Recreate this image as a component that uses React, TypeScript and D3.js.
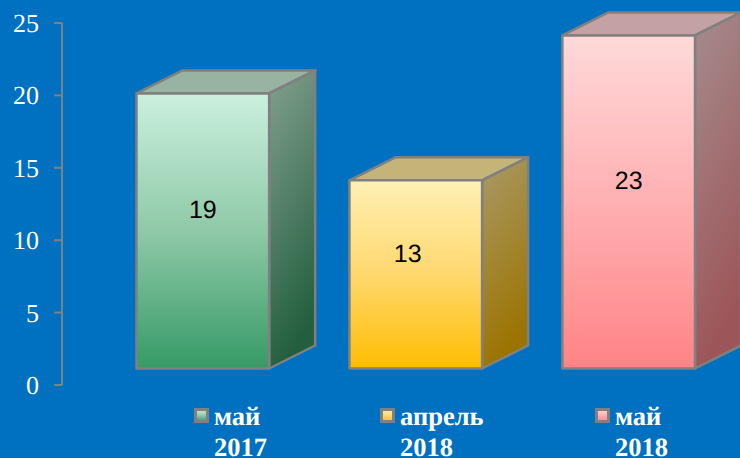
import React from "react";
import * as d3 from "d3";

const categories = ["май 2017", "апрель 2018", "май 2018"];
const legendFirst = ["май", "апрель", "май"];
const legendSecond = ["2017", "2018", "2018"];
const values = [19, 13, 23];
const yTicks = [0, 5, 10, 15, 20, 25];
const frontTop = ["#CBF0DE", "#FFF0B4", "#FFD9D9"];
const frontMid = ["#8FC9A8", "#FFD86E", "#FFB0B2"];
const frontBottom = ["#369A66", "#FFBD00", "#FF8386"];
const sideTop = ["#84A090", "#A89A68", "#A68C8E"];
const sideBottom = ["#235F3E", "#9C7300", "#9C5558"];
const topFace = ["#99B3A2", "#C4B478", "#C4A2A4"];

const W = 740, H = 458;
const y = d3.scaleLinear().domain([0, 25]).range([385, 23]);
const x = d3.scaleBand().domain(categories).range([136.5, 695]).paddingInner(0.377).paddingOuter(0);
const floorShift = 16.5, depthX = 46, depthY = 23;
const legendX = [194, 380, 595];
const labelDx = [0, -8, 0];
const serif = "'Liberation Serif', 'Times New Roman', serif";
const line = d3.line();

export default function App() {
  const bw = x.bandwidth();
  return (
    <svg width={W} height={H} textRendering="geometricPrecision" style={{ position: "fixed", left: 0, top: 0, display: "block" }}>
      <defs>
        {categories.map((c, i) => (
          <React.Fragment key={c}>
            <linearGradient id={`f${i}`} x1="0" y1="0" x2="0" y2="1">
              <stop offset="0" stopColor={frontTop[i]} />
              <stop offset="0.5" stopColor={frontMid[i]} />
              <stop offset="1" stopColor={frontBottom[i]} />
            </linearGradient>
            <linearGradient id={`s${i}`} x1="0" y1="0" x2="0.25" y2="1">
              <stop offset="0" stopColor={sideTop[i]} />
              <stop offset="1" stopColor={sideBottom[i]} />
            </linearGradient>
          </React.Fragment>
        ))}
      </defs>
      <rect width={W} height={H} fill="#0070C0" />
      <path d={line([[62, y(25)], [62, y(0)]]) ?? ""} stroke="#808080" strokeWidth={2} fill="none" />
      {yTicks.map((t) => (
        <g key={t}>
          <line x1={54} x2={62} y1={y(t)} y2={y(t)} stroke="#808080" strokeWidth={2} />
          <text x={39} y={y(t) + 9} textAnchor="end" fill="#fff" fontFamily={serif} fontSize={26}>{t}</text>
        </g>
      ))}
      {categories.map((c, i) => {
        const x0 = x(c) ?? 0, x1 = x0 + bw;
        const top = y(values[i]) - floorShift, bot = y(0) - floorShift;
        const stroke = { stroke: "#808080", strokeWidth: 2.5, strokeLinejoin: "round" as const };
        return (
          <g key={c}>
            <path d={line([[x0, top], [x0 + depthX, top - depthY], [x1 + depthX, top - depthY], [x1, top]]) + "Z"} fill={topFace[i]} {...stroke} />
            <path d={line([[x1, top], [x1 + depthX, top - depthY], [x1 + depthX, bot - depthY], [x1, bot]]) + "Z"} fill={`url(#s${i})`} {...stroke} />
            <rect x={x0} y={top} width={bw} height={bot - top} fill={`url(#f${i})`} {...stroke} />
            <text x={(x0 + x1) / 2 + labelDx[i]} y={(top + bot) / 2 - 21 + 8.5} textAnchor="middle" fill="#000" fontFamily="'Liberation Sans', Arial, sans-serif" fontSize={25}>{values[i]}</text>
            <rect x={legendX[i] + 1.5} y={409.5} width={12} height={12} fill={`url(#f${i})`} stroke="#808080" strokeWidth={3} />
            <text x={legendX[i] + 20} y={425} fill="#fff" fontFamily={serif} fontWeight="bold" fontSize={26.5}>{legendFirst[i]}</text>
            <text x={legendX[i] + 20} y={455.5} fill="#fff" fontFamily={serif} fontWeight="bold" fontSize={26.5}>{legendSecond[i]}</text>
          </g>
        );
      })}
    </svg>
  );
}
